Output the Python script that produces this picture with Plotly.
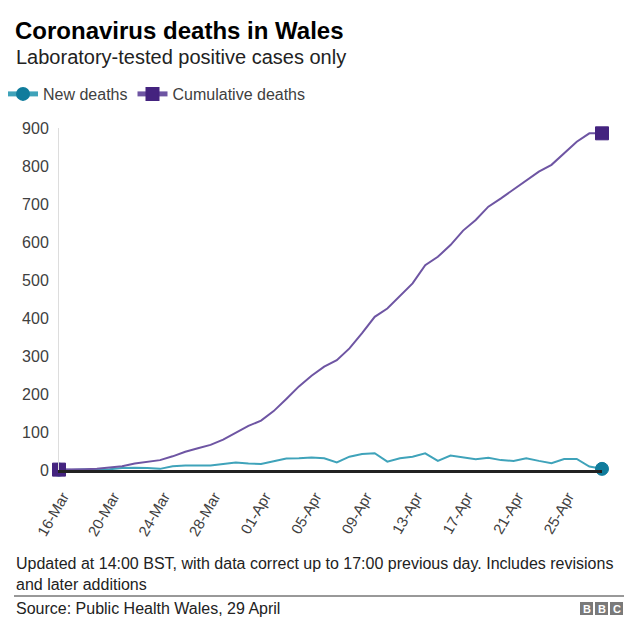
import plotly.graph_objects as go
import pandas as pd

dates = pd.date_range("2020-03-16", "2020-04-28", freq="D")
new_deaths = [1, 0, 1, 1, 2, 5, 6, 5, 3, 10, 12, 12, 12, 16, 20, 17, 16, 23, 30, 31,
              33, 31, 20, 35, 42, 44, 22, 31, 35, 44, 24, 38, 33, 28, 32, 26, 24, 31,
              24, 18, 29, 29, 9, 3]
cumulative = [1, 1, 2, 3, 6, 10, 17, 22, 26, 36, 48, 57, 66, 80, 98, 116, 130, 155,
              187, 220, 248, 272, 289, 320, 360, 403, 425, 457, 491, 539, 561, 592,
              630, 658, 693, 715, 738, 763, 785, 803, 833, 864, 886, 886]
y_ticks = list(range(0, 901, 100))

FONT = "Liberation Sans, Arial, sans-serif"
TEAL_LINE, TEAL_MARK = "#3fa3ba", "#107c9c"
PURP_LINE, PURP_MARK = "#6e55a3", "#44237f"

# page body has an 8px margin; work in screen pixels and convert
OFF = 8
W, H = 640 - OFF, 639 - OFF
PL, PR, PT, PB = 59, 602, 128, 470  # plot area in screen pixels
L, T = PL - OFF, PT - OFF
R, B = W - (PR - OFF), H - (PB - OFF)
pw, ph = PR - PL, PB - PT

def px(x):
    return (x - PL) / pw

def py(y):
    return (PB - y) / ph

n = len(dates)
sizes_c = [13 if i in (0, n - 1) else 0 for i in range(n)]
sizes_n = [13 if i in (0, n - 1) else 0 for i in range(n)]

fig = go.Figure()
fig.add_trace(go.Scatter(
    x=dates, y=new_deaths, name="New deaths", mode="lines+markers",
    line=dict(color=TEAL_LINE, width=2),
    marker=dict(symbol="circle", size=sizes_n, color=TEAL_MARK, opacity=1,
                line=dict(width=1, color=TEAL_MARK)),
    cliponaxis=False,
))
fig.add_trace(go.Scatter(
    x=dates, y=cumulative, name="Cumulative deaths", mode="lines+markers",
    line=dict(color=PURP_LINE, width=2),
    marker=dict(symbol="square", size=sizes_c, color=PURP_MARK, opacity=1,
                line=dict(width=1, color=PURP_MARK)),
    cliponaxis=False,
))

fig.update_layout(
    width=W, height=H,
    margin=dict(l=L, r=R, t=T, b=B, autoexpand=False),
    paper_bgcolor="white", plot_bgcolor="white",
    font=dict(family=FONT, color="#404040", size=16),
    showlegend=True,
    legend=dict(orientation="h", x=px(3), y=py(94), xanchor="left", yanchor="middle",
                font=dict(size=16, color="#404040"), itemwidth=30,
                itemsizing="constant", traceorder="normal"),
    xaxis=dict(
        range=[dates[0], dates[-1]], tickformat="%d-%b", dtick=4 * 86400000,
        tick0=dates[0], tickangle=-60, showgrid=False, zeroline=False,
        showline=True, linecolor="#222222", linewidth=3, ticks="",
        tickfont=dict(size=15, color="#404040"), automargin=False,
        ticklabelshift=4, ticklabelstandoff=9,
    ),
    yaxis=dict(
        range=[0, 900], tickvals=y_ticks, showgrid=False, zeroline=False,
        showline=True, linecolor="#dddddd", linewidth=1, ticks="",
        tickfont=dict(size=16, color="#404040"), ticklabelstandoff=6, automargin=False,
    ),
)

fig.add_annotation(text="<b>Coronavirus deaths in Wales</b>", xref="paper", yref="paper",
                   x=px(13), y=py(31), xanchor="left", yanchor="middle", showarrow=False,
                   font=dict(size=24, color="#000000", family=FONT))
fig.add_annotation(text="Laboratory-tested positive cases only", xref="paper", yref="paper",
                   x=px(14), y=py(57), xanchor="left", yanchor="middle", showarrow=False,
                   font=dict(size=20, color="#222222", family=FONT))
fig.add_annotation(text="Updated at 14:00 BST, with data correct up to 17:00 previous day. Includes revisions<br>and later additions",
                   xref="paper", yref="paper", x=px(14), y=py(574), xanchor="left", yanchor="middle",
                   align="left", showarrow=False,
                   font=dict(size=16, color="#222222", family=FONT))
fig.add_shape(type="line", xref="paper", yref="paper", x0=px(14), x1=px(624),
              y0=py(596), y1=py(596), line=dict(color="#333333", width=1))
fig.add_annotation(text="Source: Public Health Wales, 29 April", xref="paper", yref="paper",
                   x=px(14), y=py(608), xanchor="left", yanchor="middle", showarrow=False,
                   font=dict(size=16, color="#222222", family=FONT))
for i, letter in enumerate("BBC"):
    x0 = 580 + i * 15
    fig.add_shape(type="rect", xref="paper", yref="paper", x0=px(x0), x1=px(x0 + 13),
                  y0=py(615), y1=py(602), fillcolor="#7a7a7a", line=dict(width=0))
    fig.add_annotation(text="<b>%s</b>" % letter, xref="paper", yref="paper",
                       x=px(x0 + 6.5), y=py(608.5), xanchor="center", yanchor="middle",
                       showarrow=False, font=dict(size=11, color="white", family=FONT))

fig.write_html("out.html")
